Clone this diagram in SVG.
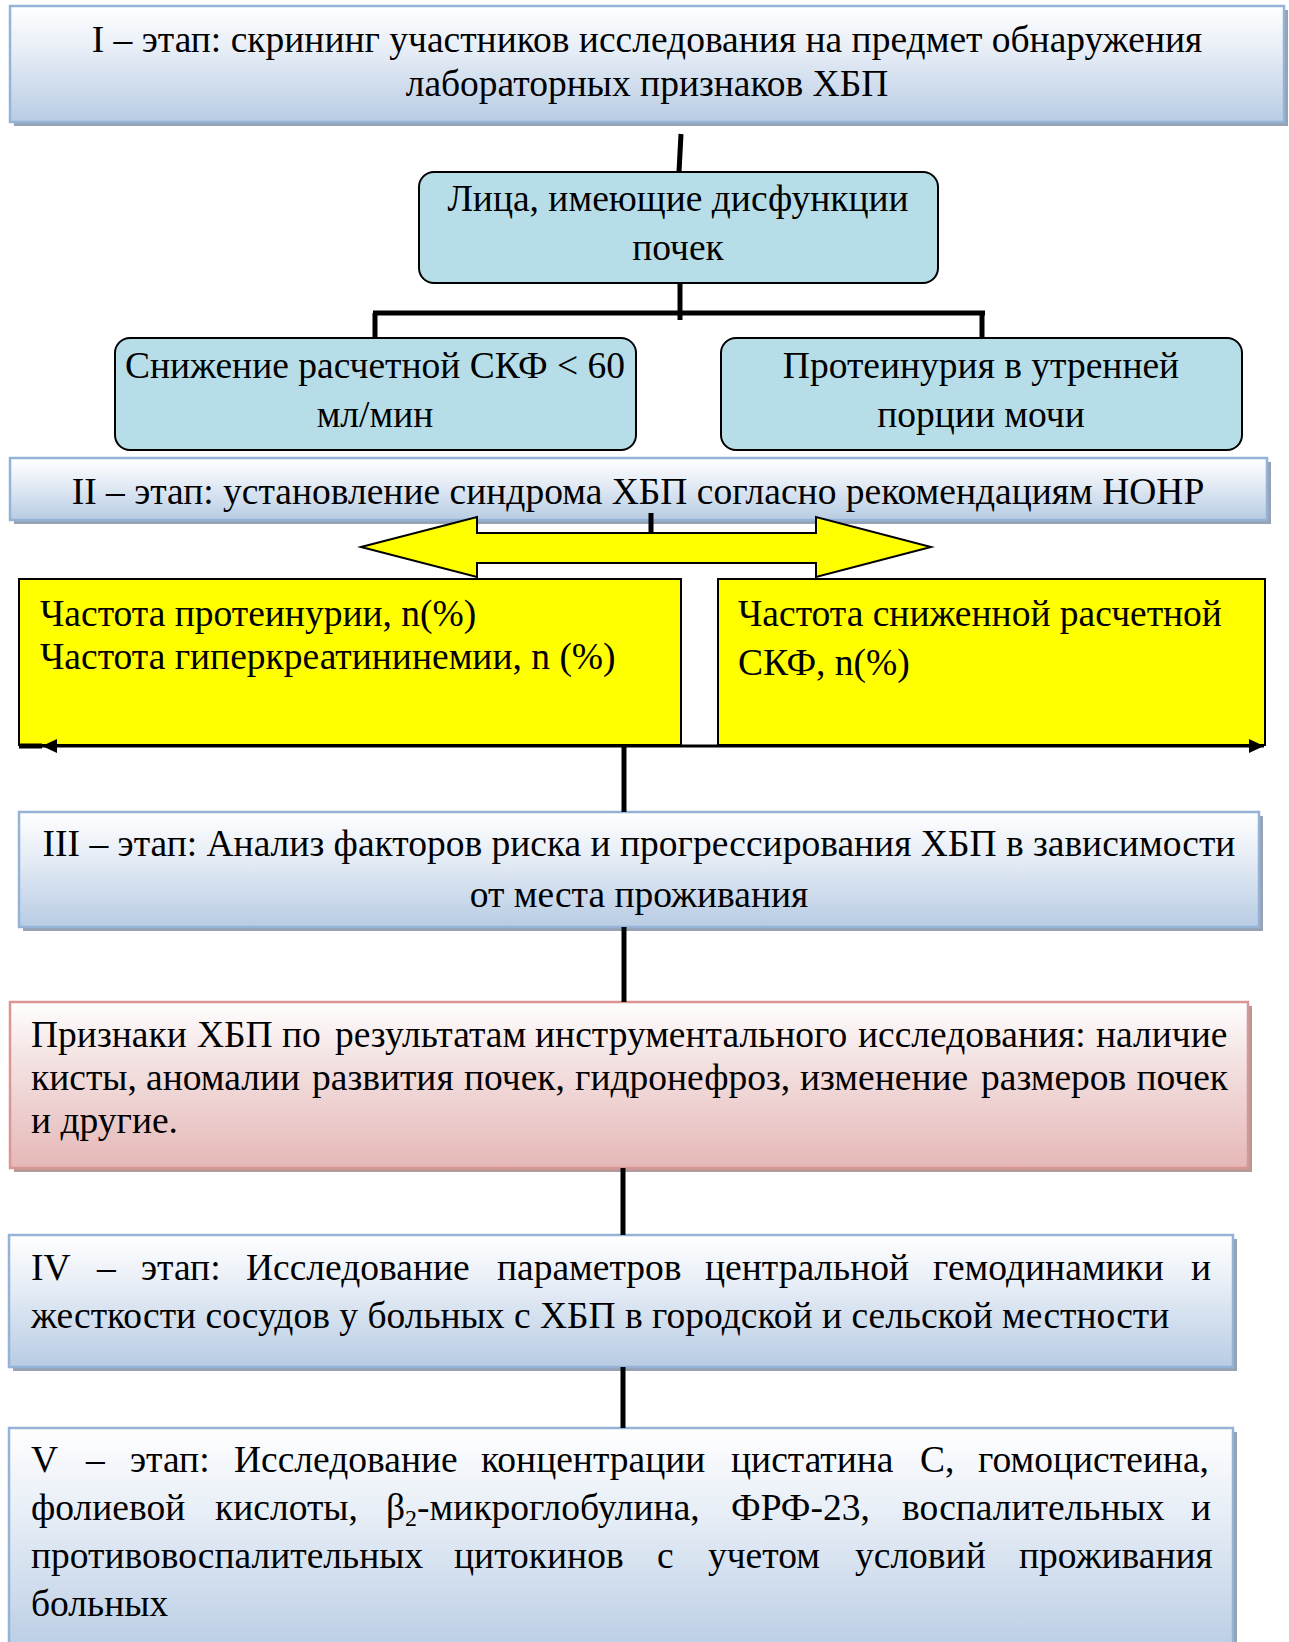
<svg xmlns="http://www.w3.org/2000/svg" width="1289" height="1642" viewBox="0 0 1289 1642">
<defs>
<linearGradient id="gBlue" x1="0" y1="0" x2="0" y2="1">
<stop offset="0" stop-color="#ffffff"/>
<stop offset="0.35" stop-color="#e9eff7"/>
<stop offset="1" stop-color="#b8cce4"/>
</linearGradient>
<linearGradient id="gRed" x1="0" y1="0" x2="0" y2="1">
<stop offset="0" stop-color="#ffffff"/>
<stop offset="0.35" stop-color="#f4e2e2"/>
<stop offset="1" stop-color="#e5b8b7"/>
</linearGradient>
<marker id="ah" viewBox="0 0 15 14" markerWidth="15" markerHeight="14" refX="15" refY="7" orient="auto-start-reverse" markerUnits="userSpaceOnUse">
<path d="M0,0 L15,7 L0,14 z" fill="#000"/>
</marker>
</defs>
<style>
text{font-family:"Liberation Serif","Times New Roman",serif;font-size:37.5px;fill:#000}
.mid{text-anchor:middle}
.end{text-anchor:end}
.blue{fill:url(#gBlue);stroke:#95b3d7;stroke-width:2.5}
.red{fill:url(#gRed);stroke:#d99694;stroke-width:2.5}
.shB{fill:#97a3b4}
.shR{fill:#b59a9a}
.teal{fill:#b7dee8;stroke:#000;stroke-width:2}
.yel{fill:#ffff00;stroke:#000;stroke-width:2}
.con{stroke:#000;stroke-width:5;fill:none}
</style>
<rect width="1289" height="1642" fill="#ffffff"/>

<g id="stage1">
<rect class="shB" x="14" y="10" width="1274" height="116"/>
<rect class="blue" x="10" y="6" width="1274" height="116"/>
<text class="mid" x="647" y="52">I – этап: скрининг участников исследования на предмет обнаружения</text>
<text class="mid" x="647" y="96">лабораторных признаков ХБП</text>
</g>

<g id="node-dysfunction">
<rect class="teal" x="419" y="172" width="519" height="111" rx="15"/>
<text class="mid" x="678" y="211">Лица, имеющие дисфункции</text>
<text class="mid" x="678" y="260">почек</text>
</g>

<g id="node-gfr">
<rect class="teal" x="115" y="338" width="521" height="112" rx="15"/>
<text class="mid" x="375" y="378">Снижение расчетной СКФ &lt; 60</text>
<text class="mid" x="375" y="427">мл/мин</text>
</g>

<g id="node-proteinuria">
<rect class="teal" x="721" y="338" width="521" height="112" rx="15"/>
<text class="mid" x="981" y="378">Протеинурия в утренней</text>
<text class="mid" x="981" y="427">порции мочи</text>
</g>

<g id="stage2">
<rect class="shB" x="14" y="462" width="1257" height="62"/>
<rect class="blue" x="10" y="458" width="1257" height="62"/>
<text class="mid" x="638" y="504">II – этап: установление синдрома ХБП согласно рекомендациям НОНР</text>
</g>

<g id="yellow-left">
<rect class="yel" x="19" y="579" width="662" height="166"/>
<text x="40" y="626">Частота протеинурии, n(%)</text>
<text x="40" y="669">Частота гиперкреатининемии, n (%)</text>
</g>

<g id="yellow-right">
<rect class="yel" x="718" y="579" width="547" height="166"/>
<text x="738" y="626">Частота сниженной расчетной</text>
<text x="738" y="675">СКФ, n(%)</text>
</g>

<g id="stage3">
<rect class="shB" x="23" y="816" width="1240" height="115"/>
<rect class="blue" x="19" y="812" width="1240" height="115"/>
<text class="mid" x="639" y="856">III – этап: Анализ факторов риска и прогрессирования ХБП в зависимости</text>
<text class="mid" x="639" y="907">от места проживания</text>
</g>

<g id="instrumental">
<rect class="shR" x="14" y="1006" width="1238" height="166"/>
<rect class="red" x="10" y="1002" width="1238" height="166"/>
<text y="1047"><tspan x="31">Признаки</tspan><tspan x="197">ХБП</tspan><tspan x="282">по</tspan><tspan x="335">результатам</tspan><tspan x="535">инструментального</tspan><tspan x="858">исследования:</tspan><tspan x="1096">наличие</tspan></text>
<text y="1090"><tspan x="31">кисты,</tspan><tspan x="146">аномалии</tspan><tspan x="312">развития</tspan><tspan x="464">почек,</tspan><tspan x="575">гидронефроз,</tspan><tspan x="800">изменение</tspan><tspan x="981">размеров</tspan></text>
<text class="end" x="1228" y="1090">почек</text>
<text x="31" y="1133">и другие.</text>
</g>

<g id="stage4">
<rect class="shB" x="13" y="1239" width="1224" height="132"/>
<rect class="blue" x="9" y="1235" width="1224" height="132"/>
<text y="1280"><tspan x="31">IV</tspan><tspan x="97">–</tspan><tspan x="141">этап:</tspan><tspan x="246">Исследование</tspan><tspan x="497">параметров</tspan><tspan x="705">центральной</tspan><tspan x="933">гемодинамики</tspan><tspan x="1191">и</tspan></text>
<text x="31" y="1328">жесткости сосудов у больных с ХБП в городской и сельской местности</text>
</g>

<g id="stage5">
<rect class="shB" x="13" y="1432" width="1224" height="230"/>
<rect class="blue" x="9" y="1428" width="1224" height="230"/>
<text y="1472"><tspan x="31">V</tspan><tspan x="86">–</tspan><tspan x="130">этап:</tspan><tspan x="234">Исследование</tspan><tspan x="481">концентрации</tspan><tspan x="731">цистатина</tspan><tspan x="920">С,</tspan><tspan x="978">гомоцистеина,</tspan></text>
<text y="1520"><tspan x="31">фолиевой</tspan><tspan x="215">кислоты,</tspan><tspan x="386">β<tspan font-size="24" dy="6">2</tspan><tspan dy="-6">-микроглобулина,</tspan></tspan><tspan x="731">ФРФ-23,</tspan><tspan x="902">воспалительных</tspan><tspan x="1191">и</tspan></text>
<text y="1568"><tspan x="31">противовоспалительных</tspan><tspan x="454">цитокинов</tspan><tspan x="657">с</tspan><tspan x="708">учетом</tspan><tspan x="855">условий</tspan><tspan x="1019">проживания</tspan></text>
<text x="31" y="1616">больных</text>
</g>

<g id="connectors">
<line class="con" x1="681" y1="134" x2="679" y2="172"/>
<line class="con" x1="680" y1="283" x2="680" y2="320"/>
<line class="con" x1="373" y1="313" x2="985" y2="313" stroke-width="6"/>
<line class="con" x1="375" y1="313" x2="375" y2="338"/>
<line class="con" x1="982" y1="313" x2="982" y2="338"/>
<line class="con" x1="651" y1="513" x2="651" y2="533"/>
<polygon points="361,547 477,517 477,533 816,533 816,517 931,547 816,577 816,563 477,563 477,577" fill="#ffff00" stroke="#000" stroke-width="2"/>
<line x1="42" y1="746" x2="1264" y2="746" stroke="#000" stroke-width="3" marker-start="url(#ah)" marker-end="url(#ah)"/>
<line class="con" x1="19" y1="746" x2="42" y2="746" stroke-width="3"/>
<line class="con" x1="624" y1="746" x2="624" y2="812"/>
<line class="con" x1="624" y1="927" x2="624" y2="1002"/>
<line class="con" x1="623" y1="1168" x2="623" y2="1235"/>
<line class="con" x1="623" y1="1367" x2="623" y2="1428"/>
</g>
</svg>
